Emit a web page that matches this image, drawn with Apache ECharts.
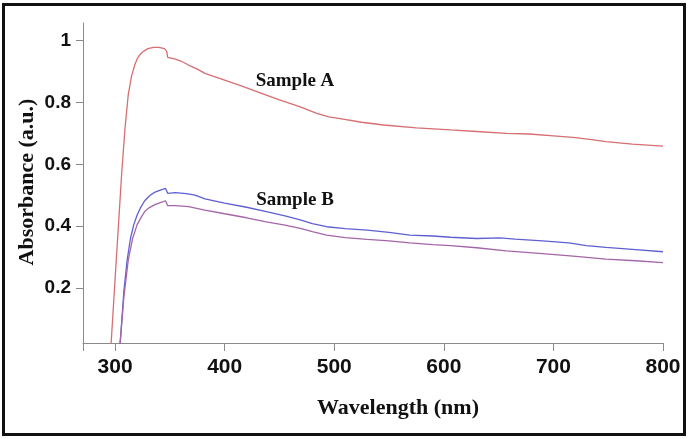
<!DOCTYPE html>
<html>
<head>
<meta charset="utf-8">
<script src="https://cdn.jsdelivr.net/npm/echarts@6/dist/echarts.min.js"></script>
<style>html,body{margin:0;padding:0;background:#fff;}#c{width:688px;height:439px;}</style>
</head>
<body>
<div id="c"></div>
<script>
// Sample A (red)
const lamA = [296,300,303,306,309,312,315,318,320,322,325,328,330,335,340,345,347,348,355,360,367,375,382,390,400,417,438,450,469,484,495,508,525,545,575,606,630,657,678,700,718,735,748,772,800];
const valA = [0.0,0.23,0.40,0.57,0.715,0.825,0.885,0.922,0.94,0.952,0.963,0.97,0.974,0.978,0.978,0.974,0.966,0.946,0.940,0.934,0.921,0.908,0.894,0.884,0.872,0.851,0.824,0.808,0.786,0.765,0.753,0.746,0.736,0.727,0.718,0.711,0.706,0.700,0.698,0.692,0.687,0.680,0.673,0.665,0.659];
// Sample B, upper (blue)
const lamB1 = [304,305,308,311,314,317,320,323,327,332,336,340,346,347,348,355,365,373,382,400,420,438,455,469,480,493,510,530,550,569,590,606,630,651,665,690,714,730,748,775,800];
const valB1 = [0.0,0.04,0.19,0.29,0.36,0.404,0.435,0.458,0.482,0.50,0.509,0.515,0.522,0.52,0.506,0.508,0.505,0.50,0.488,0.474,0.461,0.447,0.433,0.42,0.408,0.398,0.392,0.387,0.380,0.371,0.368,0.364,0.360,0.362,0.358,0.352,0.346,0.337,0.331,0.324,0.317];
// Sample B, lower (purple)
const lamB2 = [304,305,308,312,316,320,324,327,331,335,338,342,346,347,348,355,367,382,400,420,438,455,469,480,493,510,530,550,569,590,606,630,657,690,718,748,775,800];
const valB2 = [0.0,0.04,0.17,0.29,0.36,0.404,0.43,0.447,0.459,0.467,0.472,0.477,0.482,0.478,0.466,0.466,0.463,0.452,0.44,0.427,0.414,0.403,0.393,0.382,0.371,0.363,0.357,0.352,0.346,0.340,0.337,0.330,0.320,0.311,0.303,0.293,0.288,0.282];
const xTicks = [300,400,500,600,700,800];
const yTicks = [0.2,0.4,0.6,0.8,1];
const labelA = 'Sample A';
const labelB = 'Sample B';
const xTitle = 'Wavelength (nm)';
const yTitle = 'Absorbance (a.u.)';

const zip = (a,b) => a.map((v,i)=>[v,b[i]]);
const chart = echarts.init(document.getElementById('c'), null, {renderer:'canvas'});
const axisGray = '#8a8a8a';
chart.setOption({
  animation:false,
  backgroundColor:'#fff',
  grid:{left:83, right:25, top:23, bottom:96, containLabel:false},
  xAxis:{
    type:'value', min:270.7, max:800,
    axisLine:{show:true, lineStyle:{color:axisGray, width:1}},
    axisTick:{show:true, length:8, inside:false, lineStyle:{color:axisGray}, customValues:[270.7].concat(xTicks)},
    axisLabel:{customValues:xTicks, margin:14, color:'#111', fontFamily:'Liberation Sans', fontWeight:'bold', fontSize:21},
    splitLine:{show:false}
  },
  yAxis:{
    type:'value', min:0.0219, max:1.057,
    axisLine:{show:true, lineStyle:{color:axisGray, width:1}},
    axisTick:{show:true, length:7, inside:false, lineStyle:{color:axisGray}, customValues:yTicks},
    axisLabel:{customValues:yTicks, margin:12, color:'#111', fontFamily:'Liberation Sans', fontWeight:'bold', fontSize:19,
      formatter:v=>String(Math.round(v*10)/10)},
    splitLine:{show:false}
  },
  series:[
    {type:'line', data:zip(lamA,valA), showSymbol:false, clip:true, lineStyle:{color:'#d66e72', width:1.3}},
    {type:'line', data:zip(lamB1,valB1), showSymbol:false, clip:true, lineStyle:{color:'#5f5fd2', width:1.3}},
    {type:'line', data:zip(lamB2,valB2), showSymbol:false, clip:true, lineStyle:{color:'#a466a8', width:1.3}}
  ],
  graphic:[
    {type:'rect', shape:{x:3.5, y:4.5, width:681, height:430}, style:{fill:null, stroke:'#111', lineWidth:3}, z:100},
    {type:'text', x:295, y:81, style:{text:labelA, font:'bold 19px "Liberation Serif"', fill:'#111', textAlign:'center', textVerticalAlign:'middle'}},
    {type:'text', x:295, y:200, style:{text:labelB, font:'bold 19px "Liberation Serif"', fill:'#111', textAlign:'center', textVerticalAlign:'middle'}},
    {type:'text', x:398, y:408, style:{text:xTitle, font:'bold 22px "Liberation Serif"', fill:'#111', textAlign:'center', textVerticalAlign:'middle'}},
    {type:'text', x:27, y:182, rotation:Math.PI/2, style:{text:yTitle, font:'bold 22px "Liberation Serif"', fill:'#111', textAlign:'center', textVerticalAlign:'middle'}}
  ]
});
</script>
</body>
</html>
